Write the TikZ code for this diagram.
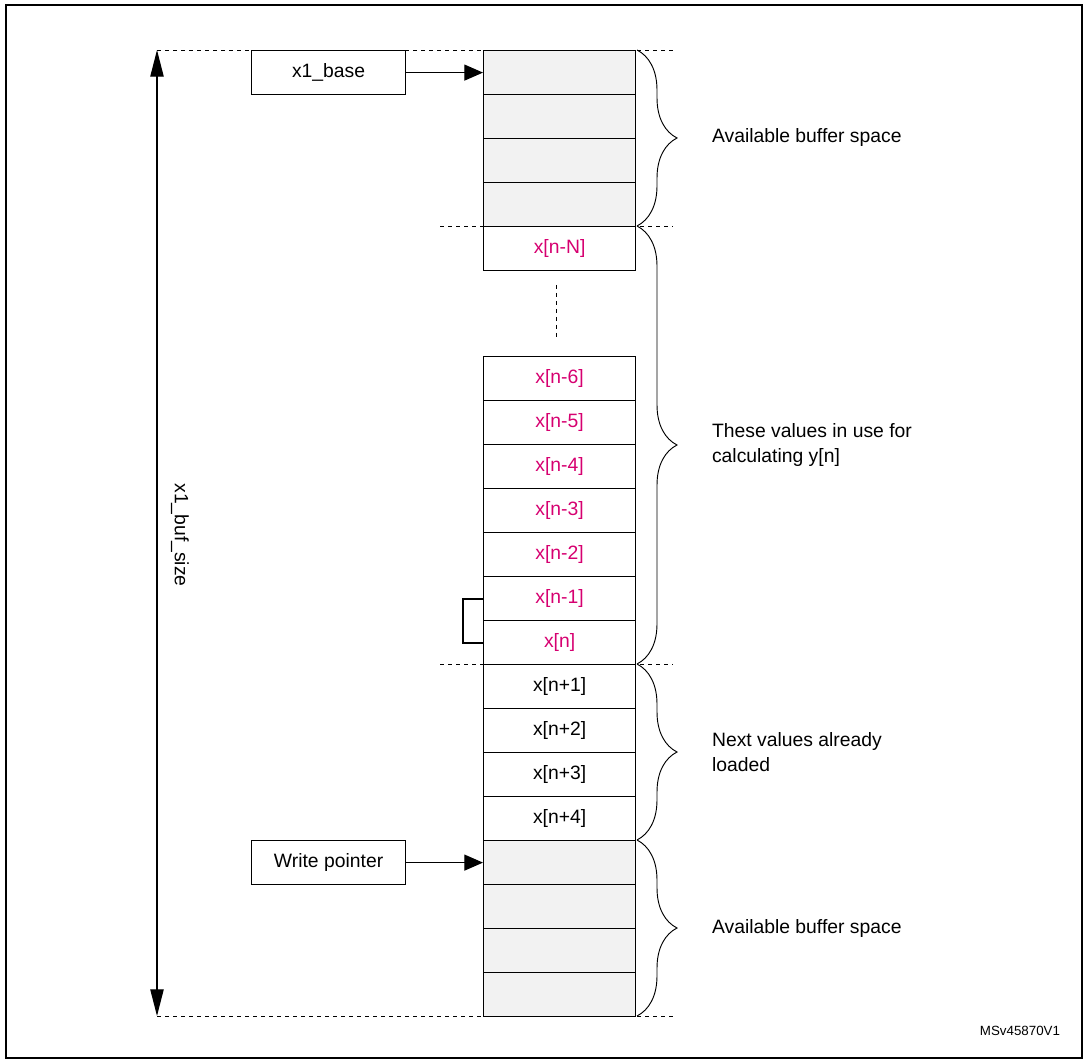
\documentclass[tikz,border=0pt]{standalone}
\usepackage{fontspec}
\setmainfont{Liberation Sans}
\usetikzlibrary{positioning,decorations.pathreplacing,arrows.meta}
\definecolor{valred}{RGB}{214,0,112}
\definecolor{cellgray}{RGB}{242,242,242}
\tikzset{every picture/.style={line width=0.9pt}}
\tikzset{
  cell/.style={draw, minimum width=114pt, minimum height=33pt, inner sep=0pt, anchor=north west, font=\fontsize{14.5}{16}\selectfont},
  freecell/.style={cell, fill=cellgray},
  usedcell/.style={cell, text=valred},
  ptrbox/.style={draw, minimum width=115.5pt, minimum height=33pt, inner sep=0pt, anchor=north west, font=\fontsize{14.5}{16}\selectfont},
  guide/.style={dashed, line width=0.7pt},
  brace/.style={decorate, decoration={brace, amplitude=30pt, aspect=0.5}, line width=0.7pt},
  note/.style={anchor=west, align=left, font=\fontsize{14.5}{19}\selectfont},
  ptrarrow/.style={-{Triangle[length=14pt,width=12pt]}}
}
\begin{document}
\begin{tikzpicture}[x=0.75pt,y=0.75pt,yscale=-1,xscale=1]
\useasboundingbox (0,0) rectangle (1085,1062);
% frame
\draw (6,5) rectangle (1082,1058);

% free cells at top
\foreach \i in {0,...,3}
  \node[freecell] (top\i) at (483,{50+44*\i}) {};
\node[usedcell] (nN) at (483,226) {x[n-N]};
\draw[guide] (556,285) -- (556,340);
% values in use
\foreach \lbl [count=\i from 0] in {x[n-6],x[n-5],x[n-4],x[n-3],x[n-2],x[n-1],x[n]}
  \node[usedcell] (use\i) at (483,{356+44*\i}) {\lbl};
% next values
\foreach \lbl [count=\i from 0] in {x[n+1],x[n+2],x[n+3],x[n+4]}
  \node[cell] (next\i) at (483,{664+44*\i}) {\lbl};
% free cells at bottom
\foreach \i in {0,...,3}
  \node[freecell] (bot\i) at (483,{840+44*\i}) {};

% pointers
\node[ptrbox] (base) at (251,50) {x1\_base};
\node[ptrbox] (wptr) at (251,840) {Write pointer};
\draw[ptrarrow] (base.east) -- (top0.west);
\draw[ptrarrow] (wptr.east) -- (bot0.west);

% small bracket
\draw[line width=1.5pt] (use5.west) -- ++(-20,0) |- (use6.west);

% guide lines
\draw[guide] (157,50) -- (673,50);
\draw[guide] (440,226) -- (673,226);
\draw[guide] (440,664) -- (673,664);
\draw[guide] (157,1016) -- (673,1016);

% size arrow
\coordinate (szt) at (157,50);
\coordinate (szb) at (157,1016);
\draw[{Triangle[length=20pt,width=10pt]}-{Triangle[length=20pt,width=10pt]}] (szt) -- (szb);
\node[rotate=-90, font=\fontsize{14.5}{16}\selectfont] (szlbl) at (180,535) {x1\_buf\_size};

% braces
\draw[brace] (637,50) -- (637,226);
\draw[brace] (637,226) -- (637,664);
\draw[brace] (637,664) -- (637,840);
\draw[brace] (637,840) -- (637,1016);
\node[note] (n1) at (707,138) {Available buffer space};
\node[note] (n2) at (707,445) {These values in use for\\calculating y[n]};
\node[note] (n3) at (707,752) {Next values already\\loaded};
\node[note] (n4) at (707,928) {Available buffer space};

\node[font=\fontsize{10}{12}\selectfont] (ref) at (1020,1031) {MSv45870V1};
\end{tikzpicture}
\end{document}
